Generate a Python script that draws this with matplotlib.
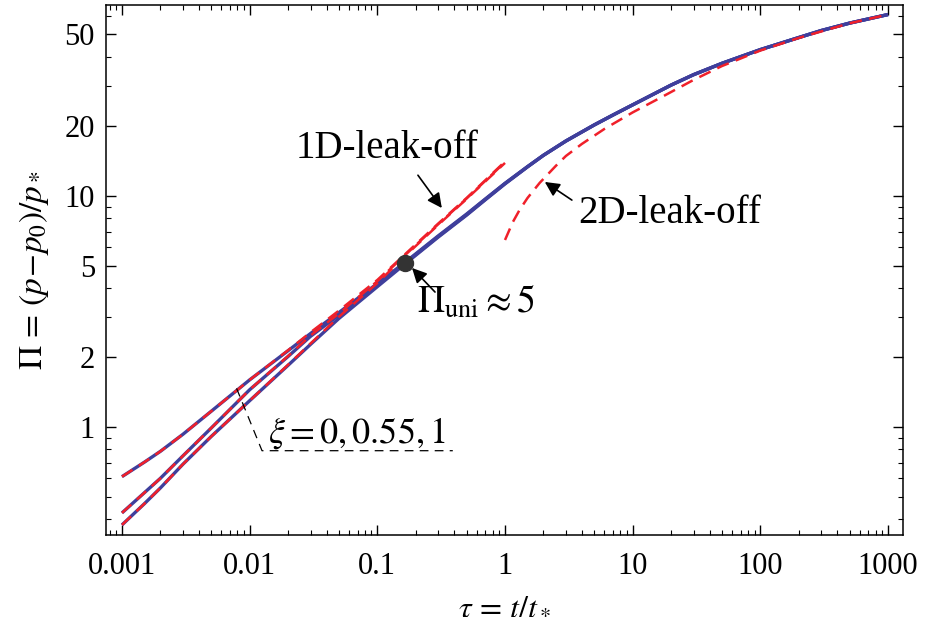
import matplotlib
matplotlib.use('Agg')
import matplotlib.pyplot as plt
from matplotlib.ticker import FixedLocator, NullFormatter, LogLocator

# values
tau = [0.001, 0.0015, 0.002, 0.003, 0.005, 0.01, 0.02, 0.03, 0.05, 0.1, 0.164, 0.2, 0.3,
       0.5, 0.7, 1, 1.5, 2, 3, 5, 7, 10, 20, 30, 50, 100, 200, 300, 500, 1000]
pi_xi0 = [0.61, 0.705, 0.785, 0.93, 1.17, 1.6, 2.14, 2.54, 3.13, 4.18, 5.15, 5.62, 6.72,
          8.35, 9.7, 11.35, 13.4, 15.0, 17.3, 20.3, 22.4, 24.8, 30.2, 33.5, 37.5, 43, 48.5, 52.0, 56, 61]
pi_xi055 = [0.425, 0.52, 0.6, 0.75, 0.99, 1.45, 2.02, 2.47, 3.05, 4.14, 5.11, 5.58, 6.68,
            8.3, 9.66, 11.32, 13.38, 15.0, 17.3, 20.3, 22.4, 24.8, 30.2, 33.5, 37.5, 43, 48.5, 52.0, 56, 61]
pi_xi1 = [0.377, 0.466, 0.545, 0.69, 0.91, 1.3, 1.85, 2.28, 2.95, 4.05, 5.07, 5.54, 6.64,
          8.26, 9.62, 11.28, 13.36, 15.0, 17.3, 20.3, 22.4, 24.8, 30.2, 33.5, 37.5, 43, 48.5, 52.0, 56, 61]

tau_1d = [0.001, 0.0015, 0.002, 0.003, 0.005, 0.01, 0.02, 0.03, 0.05, 0.1, 0.164, 0.3, 0.5, 1]
pi_1d_xi0 = [0.61, 0.705, 0.785, 0.93, 1.17, 1.6, 2.15, 2.57, 3.19, 4.33, 5.58, 7.6, 9.8, 14.1]
pi_1d_xi055 = [0.425, 0.52, 0.6, 0.75, 0.99, 1.45, 2.03, 2.49, 3.1, 4.28, 5.53, 7.55, 9.75, 14.0]
pi_1d_xi1 = [0.377, 0.466, 0.545, 0.69, 0.91, 1.3, 1.86, 2.3, 3.0, 4.2, 5.48, 7.5, 9.7, 13.9]

tau_2d = [1, 1.15, 1.3, 1.5, 1.87, 2.5, 3, 4, 6, 10, 17.3, 30, 50, 100, 200, 500, 1000]
pi_2d = [6.45, 7.7, 8.7, 9.8, 11.4, 13.5, 14.9, 16.8, 19.5, 23.0, 27.0, 31.8, 36.5, 42.6, 48.3, 55.9, 61]

tau_uni, pi_uni = 0.164, 5.12

xticks = [0.001, 0.01, 0.1, 1, 10, 100, 1000]
xticklabels = ['0.001', '0.01', '0.1', '1', '10', '100', '1000']
yticks = [1, 2, 5, 10, 20, 50]
yticklabels = ['1', '2', '5', '10', '20', '50']
yminor = [0.4, 0.5, 0.6, 0.7, 0.8, 0.9, 3, 4, 6, 7, 8, 9, 30, 40, 60]

plt.rcParams['font.family'] = ['Liberation Serif', 'DejaVu Serif']
plt.rcParams['mathtext.fontset'] = 'stix'

blue = '#3f3f9c'
red = '#f0202a'

fig = plt.figure(figsize=(9.25, 6.36), dpi=100)
ax = fig.add_axes([0.1146, 0.1588, 0.8616, 0.8341])
ax.set_xscale('log')
ax.set_yscale('log')

for ys in (pi_xi0, pi_xi055, pi_xi1):
    ax.plot(tau, ys, color=blue, lw=2.4, solid_capstyle='butt', zorder=2)
for ys in (pi_1d_xi0, pi_1d_xi055, pi_1d_xi1):
    ax.plot(tau_1d, ys, color=red, lw=1.8, dashes=(5, 3), zorder=3)
ax.plot(tau_2d, pi_2d, color=red, lw=1.8, dashes=(5, 3), zorder=3)

ax.plot([tau_uni], [pi_uni], 'o', color='#333333', ms=11.5, zorder=4)

arrow = dict(arrowstyle='-|>', color='black', lw=1.2, mutation_scale=22,
             shrinkA=0, shrinkB=0)
ax.annotate('', xy=(0.32, 8.87), xytext=(0.208, 12.3), arrowprops=arrow)
ax.annotate('', xy=(2.05, 11.5), xytext=(3.34, 9.6), arrowprops=arrow)
ax.annotate('', xy=(0.187, 4.88), xytext=(0.283, 3.84), arrowprops=arrow)

ax.text(0.119, 16.1, '1D-leak-off', fontsize=28, ha='center', va='center')
ax.text(3.72, 8.44, '2D-leak-off', fontsize=28, ha='left', va='center')
ax.text(0.205, 3.48, r'$\Pi_{\rm uni} \approx 5$', fontsize=27, ha='left', va='center')
ax.text(0.0140, 0.94, r'$\xi = 0, 0.55, 1$', fontsize=26, ha='left', va='center')
ax.plot([0.0079, 0.0125, 0.39], [1.47, 0.79, 0.79], color='black', lw=0.9,
        dashes=(7, 5), zorder=5)

ax.set_xlim(10 ** -3.125, 10 ** 3.117)
ax.set_ylim(0.341, 67.4)

ax.xaxis.set_major_locator(FixedLocator(xticks))
ax.set_xticklabels(xticklabels)
ax.xaxis.set_minor_locator(LogLocator(base=10, subs=range(2, 10)))
ax.xaxis.set_minor_formatter(NullFormatter())
ax.yaxis.set_major_locator(FixedLocator(yticks))
ax.set_yticklabels(yticklabels)
ax.yaxis.set_minor_locator(FixedLocator(yminor))
ax.yaxis.set_minor_formatter(NullFormatter())

ax.tick_params(which='both', direction='in', top=True, right=True, labelsize=22)
ax.tick_params(which='major', length=7, width=1)
ax.tick_params(which='minor', length=3.5, width=0.8)
ax.tick_params(axis='x', pad=12)
ax.tick_params(axis='y', pad=8)
for s in ax.spines.values():
    s.set_linewidth(1.1)

ax.set_xlabel(r'$\tau\, =\, t/t_*$', fontsize=23, labelpad=8)
ax.set_ylabel(r'$\Pi\, =\, (p\!-\!p_0)/p_*$', fontsize=24, labelpad=10)

fig.savefig('out.png', dpi=100)
